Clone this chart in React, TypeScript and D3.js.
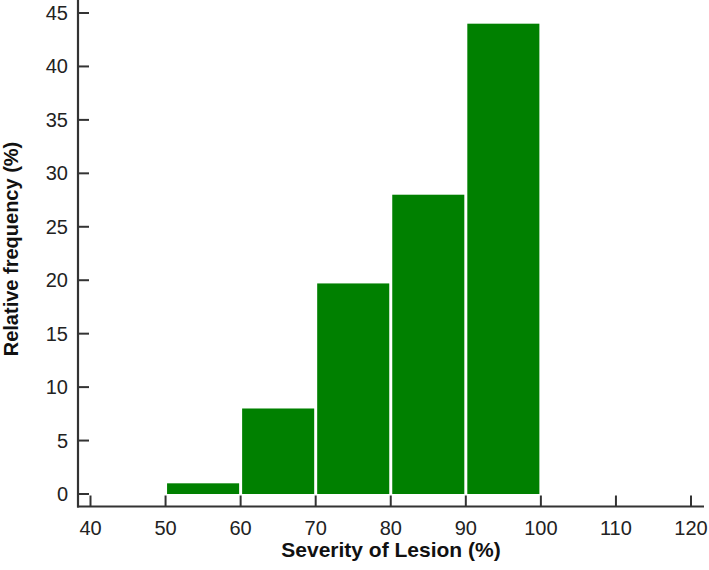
import * as d3 from "d3";
import { useEffect, useRef } from "react";

// histogram bins (severity %) and relative frequency (%)
const binStarts = [50, 60, 70, 80, 90];
const binWidth = 10;
const frequencies = [1, 8, 19.7, 28, 44];
const xTicks = [40, 50, 60, 70, 80, 90, 100, 110, 120];
const yTicks = [0, 5, 10, 15, 20, 25, 30, 35, 40, 45];

export default function App() {
    const ref = useRef<SVGSVGElement>(null);

    useEffect(() => {
        const svg = d3.select(ref.current);
        svg.selectAll("*").remove();

        const width = 709;
        const height = 570;
        const axisX = 78;
        const axisY = 506.5;
        const font = "Liberation Sans, Arial, sans-serif";
        const axisColor = "#333";

        svg.attr("width", width).attr("height", height);

        const x = d3.scaleLinear().domain([40, 120]).range([90.5, 691]);
        const y = d3.scaleLinear().domain([0, 45]).range([494, 13]);

        // Bars
        svg.append("g")
            .selectAll("rect")
            .data(binStarts.map((s, i) => ({ s, v: frequencies[i] })))
            .join("rect")
            .attr("x", d => x(d.s) + 1.5)
            .attr("width", d => x(d.s + binWidth) - x(d.s) - 3)
            .attr("y", d => y(d.v))
            .attr("height", d => y(0) - y(d.v))
            .attr("fill", "#008000");

        // Axis lines
        svg.append("line")
            .attr("x1", axisX).attr("x2", axisX)
            .attr("y1", 0).attr("y2", axisY + 1)
            .attr("stroke", axisColor).attr("stroke-width", 2.2);
        svg.append("line")
            .attr("x1", axisX - 1).attr("x2", 704)
            .attr("y1", axisY).attr("y2", axisY)
            .attr("stroke", axisColor).attr("stroke-width", 2.2);

        // Y ticks (inward)
        const yg = svg.append("g");
        yg.selectAll("line")
            .data(yTicks)
            .join("line")
            .attr("x1", axisX).attr("x2", axisX + 11)
            .attr("y1", d => y(d)).attr("y2", d => y(d))
            .attr("stroke", axisColor).attr("stroke-width", 2);
        yg.selectAll("text")
            .data(yTicks)
            .join("text")
            .attr("x", 68)
            .attr("y", d => y(d))
            .attr("dy", "0.35em")
            .attr("text-anchor", "end")
            .attr("font-family", font)
            .attr("font-size", 20)
            .attr("fill", "#222")
            .text(d => d);

        // X ticks (inward)
        const xg = svg.append("g");
        xg.selectAll("line")
            .data(xTicks)
            .join("line")
            .attr("x1", d => x(d)).attr("x2", d => x(d))
            .attr("y1", axisY).attr("y2", axisY - 11)
            .attr("stroke", axisColor).attr("stroke-width", 2);
        xg.selectAll("text")
            .data(xTicks)
            .join("text")
            .attr("x", d => x(d))
            .attr("y", 535)
            .attr("text-anchor", "middle")
            .attr("font-family", font)
            .attr("font-size", 20)
            .attr("fill", "#222")
            .text(d => d);

        // Axis titles
        svg.append("text")
            .attr("x", 391)
            .attr("y", 557)
            .attr("text-anchor", "middle")
            .attr("font-family", font)
            .attr("font-size", 21)
            .attr("font-weight", "bold")
            .attr("fill", "#111")
            .text("Severity of Lesion (%)");

        svg.append("text")
            .attr("transform", "translate(18,249) rotate(-90)")
            .attr("text-anchor", "middle")
            .attr("font-family", font)
            .attr("font-size", 20)
            .attr("font-weight", "bold")
            .attr("fill", "#111")
            .text("Relative frequency (%)");
    }, []);

    return (
        <div style={{ position: "absolute", left: 0, top: 0 }}>
            <svg ref={ref}></svg>
        </div>
    );
}
